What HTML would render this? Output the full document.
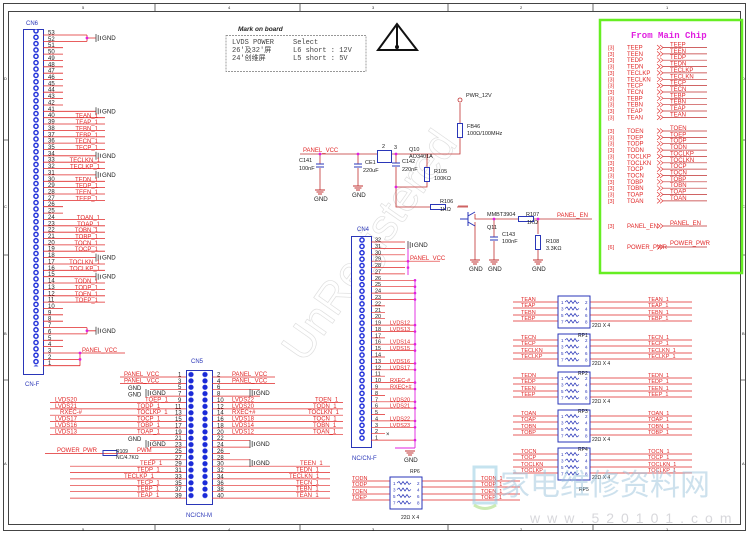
<!DOCTYPE html>
<html><head><meta charset="utf-8"><style>
html,body{margin:0;padding:0;background:#fff}
svg{display:block}
text{font-family:"Liberation Sans","Noto Sans CJK SC",sans-serif}
.mono text{font-family:"Liberation Mono","Noto Sans CJK SC",monospace;font-size:7px;fill:#444}
.r{fill:#e02828;font-size:6px}
.b{fill:#2a36b8;font-size:6px}
.k{fill:#222;font-size:6.2px}
.m{fill:#e020e0;font-size:6px}
</style></head><body>
<svg width="750" height="537" viewBox="0 0 750 537" xmlns="http://www.w3.org/2000/svg">
<defs>
<pattern id="d6" x="31" y="27.7" width="10" height="6.36" patternUnits="userSpaceOnUse"><circle cx="5" cy="3.18" r="2.1" fill="#fff" stroke="#1a2ad8" stroke-width="1.4"/></pattern>
<pattern id="d4" x="357" y="236.8" width="10" height="6.39" patternUnits="userSpaceOnUse"><circle cx="5" cy="3.2" r="2.1" fill="#fff" stroke="#1a2ad8" stroke-width="1.4"/></pattern>
<pattern id="d5" x="186" y="371.3" width="14" height="6.37" patternUnits="userSpaceOnUse"><circle cx="5" cy="3.2" r="2.6" fill="#1a2ad8"/><circle cx="19" cy="3.2" r="2.6" fill="#1a2ad8"/></pattern>
<g id="gs"><path d="M0 -4V4M2.2 -3V3M4.4 -2V2" stroke="#555" stroke-width="0.9"/><text x="6" y="2" class="k">GND</text></g>
<g id="gd"><path d="M-5 0H5M-3.5 2H3.5M-2 4H2" stroke="#c03030" stroke-width="0.9"/><text x="-6" y="11" class="k">GND</text></g>
<g id="ch"><path d="M0 -2.5L3 0L0 2.5M3 -2.5L6 0L3 2.5" fill="none" stroke="#e02828" stroke-width="0.6"/></g>
<g id="zz"><path d="M3 0l2 -1.5l2 3l2 -3l2 3l2 -3l2 3l2 -1.5" fill="none" stroke="#2a36b8" stroke-width="0.7"/></g>
<g id="rp"><rect x="0" y="0" width="32" height="32" fill="none" stroke="#2a36b8" stroke-width="1"/>
<use href="#zz" x="4" y="6"/><use href="#zz" x="4" y="12.5"/><use href="#zz" x="4" y="19"/><use href="#zz" x="4" y="25.5"/>
<text x="3" y="8" class="b" style="font-size:4.5px">1</text><text x="27" y="8" class="b" style="font-size:4.5px">2</text>
<text x="3" y="14.5" class="b" style="font-size:4.5px">3</text><text x="27" y="14.5" class="b" style="font-size:4.5px">4</text>
<text x="3" y="21" class="b" style="font-size:4.5px">5</text><text x="27" y="21" class="b" style="font-size:4.5px">6</text>
<text x="3" y="27.5" class="b" style="font-size:4.5px">7</text><text x="27" y="27.5" class="b" style="font-size:4.5px">8</text></g>
</defs>

<!-- frame -->
<rect x="3.5" y="3.5" width="742" height="527" fill="none" stroke="#444" stroke-width="1"/>
<rect x="8.5" y="11.5" width="732" height="513" fill="none" stroke="#444" stroke-width="1"/>
<path d="M155 4V11M300 4V11M448 4V11M593 4V11M155 525V531M300 525V531M448 525V531M593 525V531M4 140H8M4 255H8M4 380H8M741 140H746M741 255H746M741 380H746" stroke="#444" stroke-width="0.8"/>
<text x="82" y="9" class="k" style="font-size:4px">5</text><text x="228" y="9" class="k" style="font-size:4px">4</text><text x="372" y="9" class="k" style="font-size:4px">3</text><text x="520" y="9" class="k" style="font-size:4px">2</text><text x="666" y="9" class="k" style="font-size:4px">1</text>
<text x="82" y="531" class="k" style="font-size:4px">5</text><text x="228" y="531" class="k" style="font-size:4px">4</text><text x="372" y="531" class="k" style="font-size:4px">3</text><text x="520" y="531" class="k" style="font-size:4px">2</text><text x="666" y="531" class="k" style="font-size:4px">1</text>
<text x="4" y="80" class="k" style="font-size:4px">D</text><text x="4" y="208" class="k" style="font-size:4px">C</text><text x="4" y="335" class="k" style="font-size:4px">B</text><text x="4" y="465" class="k" style="font-size:4px">A</text>
<text x="742" y="80" class="k" style="font-size:4px">D</text><text x="742" y="208" class="k" style="font-size:4px">C</text><text x="742" y="335" class="k" style="font-size:4px">B</text><text x="742" y="465" class="k" style="font-size:4px">A</text>

<!-- watermark -->
<text x="250" y="340" transform="rotate(-55 300 300)" style="font-size:44px;fill:none;stroke:#d8d8d8;stroke-width:0.7" opacity="0.8">UnRegistered</text>

<!-- CN6 -->
<text x="26" y="25" class="b">CN6</text>
<rect x="23.5" y="29.5" width="20" height="345" fill="#fff" stroke="#2a36b8" stroke-width="1"/>
<rect x="31" y="29.3" width="10" height="337.1" fill="url(#d6)"/>
<text x="25" y="386" class="b">CN-F</text>
<path stroke="#e02828" stroke-width="0.8" d="
M43 35H87M43 41.4H87M43 47.7H63M43 54.1H63M43 60.4H63M43 66.8H63M43 73.2H63M43 79.5H63M43 85.9H63M43 92.2H63M43 98.6H63M43 105H63
M43 111.3H96M43 117.7H105M43 124H105M43 130.4H105M43 136.8H105M43 143.1H105M43 149.5H105M43 155.8H96M43 162.2H105M43 168.6H105M43 174.9H96
M43 181.3H105M43 187.6H105M43 194H105M43 200.4H105M43 206.7H63M43 213.1H63M43 219.4H105M43 225.8H105M43 232.2H105M43 238.5H105M43 244.9H105M43 251.2H105
M43 257.6H96M43 264H105M43 270.3H105M43 276.7H96M43 283H105M43 289.4H105M43 295.8H105M43 302.1H105M43 308.5H63M43 314.8H63M43 321.2H63
M43 327.6H87M43 333.9H87M43 340.3H63M43 346.6H63M43 353H80M43 359.4H80M43 365.7H80M80 353V365.7M80 353H125M87 35V41.4M87 38H96M87 327.6V333.9M87 330.8H96"/>
<g fill="#e020e0"><circle cx="87" cy="38" r="1.4"/><circle cx="87" cy="330.8" r="1.4"/><circle cx="80" cy="359.4" r="1.4"/><circle cx="80" cy="353" r="1.4"/></g>
<use href="#gs" x="96" y="38"/><use href="#gs" x="96" y="111.3"/><use href="#gs" x="96" y="155.8"/><use href="#gs" x="96" y="174.9"/><use href="#gs" x="96" y="257.6"/><use href="#gs" x="96" y="276.7"/><use href="#gs" x="96" y="330.8"/>
<text x="82" y="352" class="r">PANEL_VCC</text>
<g class="k" style="font-size:6px">
<text x="48" y="34.5">53</text><text x="48" y="40.9">52</text><text x="48" y="47.2">51</text><text x="48" y="53.6">50</text><text x="48" y="59.9">49</text><text x="48" y="66.3">48</text><text x="48" y="72.7">47</text><text x="48" y="79">46</text><text x="48" y="85.4">45</text><text x="48" y="91.7">44</text><text x="48" y="98.1">43</text><text x="48" y="104.5">42</text><text x="48" y="110.8">41</text><text x="48" y="117.2">40</text><text x="48" y="123.5">39</text><text x="48" y="129.9">38</text><text x="48" y="136.3">37</text><text x="48" y="142.6">36</text><text x="48" y="149">35</text><text x="48" y="155.3">34</text><text x="48" y="161.7">33</text><text x="48" y="168.1">32</text><text x="48" y="174.4">31</text><text x="48" y="180.8">30</text><text x="48" y="187.1">29</text><text x="48" y="193.5">28</text><text x="48" y="199.9">27</text><text x="48" y="206.2">26</text><text x="48" y="212.6">25</text><text x="48" y="218.9">24</text><text x="48" y="225.3">23</text><text x="48" y="231.7">22</text><text x="48" y="238">21</text><text x="48" y="244.4">20</text><text x="48" y="250.7">19</text><text x="48" y="257.1">18</text><text x="48" y="263.5">17</text><text x="48" y="269.8">16</text><text x="48" y="276.2">15</text><text x="48" y="282.5">14</text><text x="48" y="288.9">13</text><text x="48" y="295.3">12</text><text x="48" y="301.6">11</text><text x="48" y="308">10</text><text x="48" y="314.3">9</text><text x="48" y="320.7">8</text><text x="48" y="327.1">7</text><text x="48" y="333.4">6</text><text x="48" y="339.8">5</text><text x="48" y="346.1">4</text><text x="48" y="352.5">3</text><text x="48" y="358.9">2</text><text x="48" y="365.2">1</text>
</g>
<g class="r" text-anchor="end">
<text x="98" y="117.7">TEAN_1</text><text x="98" y="124">TEAP_1</text><text x="98" y="130.4">TEBN_1</text><text x="98" y="136.8">TEBP_1</text><text x="98" y="143.1">TECN_1</text><text x="98" y="149.5">TECP_1</text>
<text x="100" y="162.2">TECLKN_1</text><text x="100" y="168.6">TECLKP_1</text>
<text x="98" y="181.3">TEDN_1</text><text x="98" y="187.6">TEDP_1</text><text x="98" y="194">TEEN_1</text><text x="98" y="200.4">TEEP_1</text>
<text x="100" y="219.4">TOAN_1</text><text x="100" y="225.8">TOAP_1</text><text x="98" y="232.2">TOBN_1</text><text x="98" y="238.5">TOBP_1</text><text x="98" y="244.9">TOCN_1</text><text x="98" y="251.2">TOCP_1</text>
<text x="100" y="264">TOCLKN_1</text><text x="100" y="270.3">TOCLKP_1</text>
<text x="98" y="283">TODN_1</text><text x="98" y="289.4">TODP_1</text><text x="98" y="295.8">TOEN_1</text><text x="98" y="302.1">TOEP_1</text>
</g>

<!-- Mark on board -->
<text x="238" y="31" style="font-size:6.5px;font-style:italic;font-weight:bold;fill:#222">Mark on board</text>
<rect x="226" y="35.5" width="140" height="36" fill="none" stroke="#777" stroke-width="0.7" stroke-dasharray="2,1"/>
<g class="mono">
<text x="232" y="44">LVDS POWER</text><text x="293" y="44">Select</text>
<text x="232" y="52">26'及32'屏</text><text x="293" y="52">L6 short : 12V</text>
<text x="232" y="60">24'创维屏</text><text x="293" y="60">L5 short : 5V</text>
</g>

<!-- triangle -->
<path d="M397 24L378 50H417Z" fill="none" stroke="#111" stroke-width="2"/>
<path d="M397 26V47" stroke="#111" stroke-width="2"/><circle cx="397" cy="47" r="2" fill="#111"/>

<!-- power circuit -->
<text x="303" y="152" class="r">PANEL_VCC</text>
<path stroke="#c03030" stroke-width="0.8" fill="none" d="M300 154H377M391 154H460V138M460 123V103M320 154V164M320 168V190M358 154V164M358 168V186M396 154V163M396 167V207H430M457 207H468M427 154V167M427 181V187H396M475 222V260M475 214V219H518M533 219H592M538 219V234M538 250V260M494 219V237M494 241V260M458 206H468"/>
<path d="M316 164H324M316 167H324M354 164H362M354 167H362M392 163H400M392 166H400M490 237H498M490 240H498" stroke="#2a36b8" stroke-width="1"/>
<rect x="424.5" y="167.5" width="5" height="14" fill="none" stroke="#2a36b8"/>
<rect x="457.5" y="123.5" width="5" height="14" fill="none" stroke="#2a36b8"/>
<rect x="535.5" y="235.5" width="5" height="14" fill="none" stroke="#2a36b8"/>
<rect x="518.5" y="216.5" width="15" height="5" fill="none" stroke="#2a36b8"/>
<rect x="430.5" y="204.5" width="15" height="5" fill="none" stroke="#2a36b8"/>
<rect x="377.5" y="150.5" width="14" height="12" fill="none" stroke="#2a36b8"/>
<path d="M468 212V226M468 216L475 212M468 222L475 226M460 219H468" stroke="#2a36b8" stroke-width="1" fill="none"/>
<circle cx="460" cy="100" r="2" fill="#fff" stroke="#c03030" stroke-width="0.8"/>
<g fill="#e020e0"><circle cx="320" cy="154" r="1.4"/><circle cx="358" cy="154" r="1.4"/><circle cx="396" cy="154" r="1.4"/><circle cx="396" cy="187" r="1.4"/><circle cx="538" cy="219" r="1.4"/><circle cx="494" cy="219" r="1.4"/></g>
<use href="#gd" x="320" y="190"/><use href="#gd" x="358" y="186"/><use href="#gd" x="475" y="260"/><use href="#gd" x="494" y="260"/><use href="#gd" x="538" y="260"/>
<g class="k" style="font-size:5.5px">
<text x="466" y="97">PWR_12V</text><text x="467" y="128">FB46</text><text x="467" y="135">100Ω/100MHz</text>
<text x="299" y="162">C141</text><text x="299" y="170">100nF</text><text x="365" y="164">CE1</text><text x="363" y="172">220uF</text>
<text x="402" y="163">C142</text><text x="402" y="171">220nF</text><text x="409" y="151">Q10</text><text x="409" y="158">AO3401A</text>
<text x="434" y="173">R105</text><text x="434" y="180">100KΩ</text><text x="440" y="203">R106</text><text x="440" y="211">1KΩ</text>
<text x="487" y="216">MMBT3904</text><text x="487" y="229">Q11</text><text x="502" y="236">C143</text><text x="502" y="243">100nF</text>
<text x="526" y="216">R107</text><text x="527" y="224">1KΩ</text><text x="546" y="243">R108</text><text x="546" y="250">3.3KΩ</text>
<text x="382" y="148">2</text><text x="394" y="149">3</text>
</g>
<text x="557" y="217" class="r">PANEL_EN</text>

<!-- green box -->
<rect x="600" y="20" width="142" height="253" fill="none" stroke="#66ee22" stroke-width="2.5"/>
<text x="631" y="38" style="font-family:'Liberation Mono',monospace;font-weight:bold;font-size:9px;fill:#e020e0">From Main Chip</text>
<g class="r" style="font-size:5.5px">
<text x="608" y="49.5">[3]</text><text x="608" y="55.9">[3]</text><text x="608" y="62.2">[3]</text><text x="608" y="68.6">[3]</text><text x="608" y="74.9">[3]</text><text x="608" y="81.3">[3]</text><text x="608" y="87.6">[3]</text><text x="608" y="94">[3]</text><text x="608" y="100.3">[3]</text><text x="608" y="106.7">[3]</text><text x="608" y="113">[3]</text><text x="608" y="119.4">[3]</text>
<text x="608" y="133">[3]</text><text x="608" y="139.4">[3]</text><text x="608" y="145.7">[3]</text><text x="608" y="152.1">[3]</text><text x="608" y="158.4">[3]</text><text x="608" y="164.8">[3]</text><text x="608" y="171.1">[3]</text><text x="608" y="177.5">[3]</text><text x="608" y="183.8">[3]</text><text x="608" y="190.2">[3]</text><text x="608" y="196.5">[3]</text><text x="608" y="202.9">[3]</text>
<text x="608" y="228">[3]</text><text x="608" y="249">[6]</text>
</g>
<g class="r">
<text x="627" y="49.5">TEEP</text><text x="627" y="55.9">TEEN</text><text x="627" y="62.2">TEDP</text><text x="627" y="68.6">TEDN</text><text x="627" y="74.9">TECLKP</text><text x="627" y="81.3">TECLKN</text><text x="627" y="87.6">TECP</text><text x="627" y="94">TECN</text><text x="627" y="100.3">TEBP</text><text x="627" y="106.7">TEBN</text><text x="627" y="113">TEAP</text><text x="627" y="119.4">TEAN</text>
<text x="627" y="133">TOEN</text><text x="627" y="139.4">TOEP</text><text x="627" y="145.7">TODP</text><text x="627" y="152.1">TODN</text><text x="627" y="158.4">TOCLKP</text><text x="627" y="164.8">TOCLKN</text><text x="627" y="171.1">TOCP</text><text x="627" y="177.5">TOCN</text><text x="627" y="183.8">TOBP</text><text x="627" y="190.2">TOBN</text><text x="627" y="196.5">TOAP</text><text x="627" y="202.9">TOAN</text>
<text x="627" y="228">PANEL_EN</text><text x="627" y="249">POWER_PWR</text>
<text x="670" y="46.5">TEEP</text><text x="670" y="52.9">TEEN</text><text x="670" y="59.2">TEDP</text><text x="670" y="65.6">TEDN</text><text x="670" y="71.9">TECLKP</text><text x="670" y="78.3">TECLKN</text><text x="670" y="84.6">TECP</text><text x="670" y="91">TECN</text><text x="670" y="97.3">TEBP</text><text x="670" y="103.7">TEBN</text><text x="670" y="110">TEAP</text><text x="670" y="116.4">TEAN</text>
<text x="670" y="130">TOEN</text><text x="670" y="136.4">TOEP</text><text x="670" y="142.7">TODP</text><text x="670" y="149.1">TODN</text><text x="670" y="155.4">TOCLKP</text><text x="670" y="161.8">TOCLKN</text><text x="670" y="168.1">TOCP</text><text x="670" y="174.5">TOCN</text><text x="670" y="180.8">TOBP</text><text x="670" y="187.2">TOBN</text><text x="670" y="193.5">TOAP</text><text x="670" y="199.9">TOAN</text>
<text x="670" y="225">PANEL_EN</text><text x="670" y="245">POWER_PWR</text>
</g>
<path stroke="#c03030" stroke-width="0.7" d="M663 47.5H707M663 53.9H707M663 60.2H707M663 66.6H707M663 72.9H707M663 79.3H707M663 85.6H707M663 92H707M663 98.3H707M663 104.7H707M663 111H707M663 117.4H707M663 131H707M663 137.4H707M663 143.7H707M663 150.1H707M663 156.4H707M663 162.8H707M663 169.1H707M663 175.5H707M663 181.8H707M663 188.2H707M663 194.5H707M663 200.9H707M663 226H707M663 247H707"/>
<g><use href="#ch" x="657" y="47.5"/><use href="#ch" x="657" y="53.9"/><use href="#ch" x="657" y="60.2"/><use href="#ch" x="657" y="66.6"/><use href="#ch" x="657" y="72.9"/><use href="#ch" x="657" y="79.3"/><use href="#ch" x="657" y="85.6"/><use href="#ch" x="657" y="92"/><use href="#ch" x="657" y="98.3"/><use href="#ch" x="657" y="104.7"/><use href="#ch" x="657" y="111"/><use href="#ch" x="657" y="117.4"/>
<use href="#ch" x="657" y="131"/><use href="#ch" x="657" y="137.4"/><use href="#ch" x="657" y="143.7"/><use href="#ch" x="657" y="150.1"/><use href="#ch" x="657" y="156.4"/><use href="#ch" x="657" y="162.8"/><use href="#ch" x="657" y="169.1"/><use href="#ch" x="657" y="175.5"/><use href="#ch" x="657" y="181.8"/><use href="#ch" x="657" y="188.2"/><use href="#ch" x="657" y="194.5"/><use href="#ch" x="657" y="200.9"/><use href="#ch" x="657" y="226"/><use href="#ch" x="657" y="247"/></g>

<!-- CN4 -->
<text x="357" y="231" class="b">CN4</text>
<rect x="351.5" y="236.5" width="20" height="211" fill="#fff" stroke="#2a36b8" stroke-width="1"/>
<rect x="357" y="236.8" width="10" height="204.5" fill="url(#d4)"/>
<text x="352" y="460" class="b">NC/CN-F</text>
<path stroke="#e02828" stroke-width="0.7" d="M371 242H405M371 248.4H405M371 254.8H405M371 261.2H440M371 267.6H405M371 273.9H405M371 280.3H415M371 286.7H415M371 293.1H415M371 299.5H415M371 305.9H385M371 312.3H385M371 318.7H385M371 325.1H415M371 331.5H415M371 337.9H385M371 344.2H415M371 350.6H415M371 357H385M371 363.4H415M371 369.8H415M371 376.2H385M371 382.6H415M371 389H415M371 395.4H385M371 401.8H415M371 408.1H415M371 414.5H385M371 420.9H415M371 427.3H415M371 433.7H385M371 440.1H415"/>
<path d="M415 280V448M408 242V275M395 448H415" stroke="#e020e0" stroke-width="0.9"/>
<g fill="#e020e0"><circle cx="415" cy="280.3" r="1.3"/><circle cx="415" cy="286.7" r="1.3"/><circle cx="415" cy="293.1" r="1.3"/><circle cx="415" cy="299.5" r="1.3"/><circle cx="415" cy="325.1" r="1.3"/><circle cx="415" cy="331.5" r="1.3"/><circle cx="415" cy="344.2" r="1.3"/><circle cx="415" cy="350.6" r="1.3"/><circle cx="415" cy="363.4" r="1.3"/><circle cx="415" cy="369.8" r="1.3"/><circle cx="415" cy="382.6" r="1.3"/><circle cx="415" cy="389" r="1.3"/><circle cx="415" cy="401.8" r="1.3"/><circle cx="415" cy="408.1" r="1.3"/><circle cx="415" cy="420.9" r="1.3"/><circle cx="415" cy="427.3" r="1.3"/><circle cx="415" cy="440.1" r="1.3"/><circle cx="408" cy="261.2" r="1.3"/><circle cx="408" cy="267.6" r="1.3"/></g>
<use href="#gs" x="408" y="245"/>
<text x="410" y="260" class="r">PANEL_VCC</text>
<use href="#gd" x="410" y="451"/>
<g class="k" style="font-size:5.5px">
<text x="375" y="241.5">32</text><text x="375" y="247.9">31</text><text x="375" y="254.3">30</text><text x="375" y="260.7">29</text><text x="375" y="267.1">28</text><text x="375" y="273.4">27</text><text x="375" y="279.8">26</text><text x="375" y="286.2">25</text><text x="375" y="292.6">24</text><text x="375" y="299">23</text><text x="375" y="305.4">22</text><text x="375" y="311.8">21</text><text x="375" y="318.2">20</text><text x="375" y="324.6">19</text><text x="375" y="331">18</text><text x="375" y="337.4">17</text><text x="375" y="343.7">16</text><text x="375" y="350.1">15</text><text x="375" y="356.5">14</text><text x="375" y="362.9">13</text><text x="375" y="369.3">12</text><text x="375" y="375.7">11</text><text x="375" y="382.1">10</text><text x="375" y="388.5">9</text><text x="375" y="394.9">8</text><text x="375" y="401.3">7</text><text x="375" y="407.6">6</text><text x="375" y="414">5</text><text x="375" y="420.4">4</text><text x="375" y="426.8">3</text><text x="375" y="433.2">2</text><text x="375" y="439.6">1</text>
</g>
<g class="r" style="font-size:5.5px">
<text x="390" y="324.6">LVDS12</text><text x="390" y="331">LVDS13</text><text x="390" y="343.7">LVDS14</text><text x="390" y="350.1">LVDS15</text><text x="390" y="362.9">LVDS16</text><text x="390" y="369.3">LVDS17</text><text x="390" y="382.1">RXEC-#</text><text x="390" y="388.5">RXEC+#</text><text x="390" y="401.3">LVDS20</text><text x="390" y="407.6">LVDS21</text><text x="390" y="420.4">LVDS22</text><text x="390" y="426.8">LVDS23</text>
</g>
<text x="386" y="436" class="k" style="font-size:6px">×</text>

<!-- CN5 -->
<text x="191" y="363" class="b">CN5</text>
<rect x="186.5" y="370.5" width="26" height="134" fill="#fff" stroke="#2a36b8" stroke-width="1"/>
<rect x="186" y="371.3" width="28" height="127.4" fill="url(#d5)"/>
<text x="186" y="517" class="b">NC/CN-M</text>
<path stroke="#e02828" stroke-width="0.7" d="
M120 377H186M120 383.4H186M150 389.7H186M150 396.1H186M50 402.5H186M50 408.9H186M50 415.2H186M50 421.6H186M50 428H186M50 434.3H186M150 440.7H186M150 447.1H186M45 453.5H186M150 459.8H186M70 466.2H186M70 472.6H186M70 478.9H186M70 485.3H186M70 491.7H186M70 498.1H186
M212 377H275M212 383.4H275M212 389.7H260M212 396.1H260M212 402.5H343M212 408.9H343M212 415.2H343M212 421.6H343M212 428H343M212 434.3H343M212 440.7H250M212 447.1H250M212 453.5H230M212 459.8H250M212 466.2H330M212 472.6H330M212 478.9H330M212 485.3H330M212 491.7H330M212 498.1H330"/>
<rect x="103" y="450.5" width="14" height="5" fill="none" stroke="#2a36b8"/>
<use href="#gs" x="146" y="393"/><use href="#gs" x="146" y="444"/><use href="#gs" x="250" y="393"/><use href="#gs" x="250" y="444"/><use href="#gs" x="250" y="463"/>
<g class="k" style="font-size:6px">
<text x="178" y="376.5">1</text><text x="178" y="382.9">3</text><text x="178" y="389.2">5</text><text x="178" y="395.6">7</text><text x="178" y="402">9</text><text x="175" y="408.4">11</text><text x="175" y="414.7">13</text><text x="175" y="421.1">15</text><text x="175" y="427.5">17</text><text x="175" y="433.8">19</text><text x="175" y="440.2">21</text><text x="175" y="446.6">23</text><text x="175" y="453">25</text><text x="175" y="459.3">27</text><text x="175" y="465.7">29</text><text x="175" y="472.1">31</text><text x="175" y="478.4">33</text><text x="175" y="484.8">35</text><text x="175" y="491.2">37</text><text x="175" y="497.6">39</text>
<text x="217" y="376.5">2</text><text x="217" y="382.9">4</text><text x="217" y="389.2">6</text><text x="217" y="395.6">8</text><text x="217" y="402">10</text><text x="217" y="408.4">12</text><text x="217" y="414.7">14</text><text x="217" y="421.1">16</text><text x="217" y="427.5">18</text><text x="217" y="433.8">20</text><text x="217" y="440.2">22</text><text x="217" y="446.6">24</text><text x="217" y="453">26</text><text x="217" y="459.3">28</text><text x="217" y="465.7">30</text><text x="217" y="472.1">32</text><text x="217" y="478.4">34</text><text x="217" y="484.8">36</text><text x="217" y="491.2">38</text><text x="217" y="497.6">40</text>
<text x="128" y="390">GND</text><text x="128" y="396.5">GND</text><text x="128" y="441">GND</text>
</g>
<g class="r">
<text x="124" y="376">PANEL_VCC</text><text x="124" y="382.4">PANEL_VCC</text><text x="232" y="376">PANEL_VCC</text><text x="232" y="382.4">PANEL_VCC</text>
<text x="55" y="401.5">LVDS20</text><text x="55" y="407.9">LVDS21</text><text x="60" y="414.2">RXEC-#</text><text x="55" y="420.6">LVDS17</text><text x="55" y="427">LVDS16</text><text x="55" y="433.3">LVDS13</text>
<text x="145" y="401.5">TOEP_1</text><text x="137" y="407.9">TODP_1</text><text x="137" y="414.2">TOCLKP_1</text><text x="137" y="420.6">TOCP_1</text><text x="137" y="427">TOBP_1</text><text x="137" y="433.3">TOAP_1</text>
<text x="232" y="401.5">LVDS22</text><text x="232" y="407.9">LVDS20</text><text x="232" y="414.2">RXEC+#</text><text x="232" y="420.6">LVDS18</text><text x="232" y="427">LVDS14</text><text x="232" y="433.3">LVDS12</text>
<text x="315" y="401.5">TOEN_1</text><text x="313" y="407.9">TODN_1</text><text x="308" y="414.2">TOCLKN_1</text><text x="313" y="420.6">TOCN_1</text><text x="313" y="427">TOBN_1</text><text x="313" y="433.3">TOAN_1</text>
<text x="57" y="452">POWER_PWR</text><text x="137" y="452">PWM</text>
<text x="140" y="465.2">TEEP_1</text><text x="137" y="471.6">TEDP_1</text><text x="124" y="477.9">TECLKP_1</text><text x="137" y="484.3">TECP_1</text><text x="137" y="490.7">TEBP_1</text><text x="137" y="497.1">TEAP_1</text>
<text x="300" y="465.2">TEEN_1</text><text x="296" y="471.6">TEDN_1</text><text x="289" y="477.9">TECLKN_1</text><text x="296" y="484.3">TECN_1</text><text x="296" y="490.7">TEBN_1</text><text x="296" y="497.1">TEAN_1</text>
</g>
<text x="116" y="453" class="k" style="font-size:5px">R109</text><text x="116" y="459" class="k" style="font-size:5px">NC/4.7KΩ</text>

<!-- RP blocks -->
<path stroke="#e02828" stroke-width="0.7" d="
M513 302H558M513 308H558M513 315H558M513 321H558M590 302H692M590 308H692M590 315H692M590 321H692
M513 340H558M513 346H558M513 353H558M513 359H558M590 340H692M590 346H692M590 353H692M590 359H692
M513 378H558M513 384H558M513 391H558M513 397H558M590 378H692M590 384H692M590 391H692M590 397H692
M513 416H558M513 422H558M513 429H558M513 435H558M590 416H692M590 422H692M590 429H692M590 435H692
M513 454H558M513 460H558M513 467H558M513 473H558M590 454H692M590 460H692M590 467H692M590 473H692
M352 481H390M352 487H390M352 494H390M352 500H390M422 481H520M422 487H520M422 494H520M422 500H520"/>
<use href="#rp" x="558" y="296"/><use href="#rp" x="558" y="334"/><use href="#rp" x="558" y="372"/><use href="#rp" x="558" y="410"/><use href="#rp" x="558" y="448"/><use href="#rp" x="390" y="477"/>
<g class="k" style="font-size:5px">
<text x="592" y="327">22Ω X 4</text><text x="592" y="365">22Ω X 4</text><text x="592" y="403">22Ω X 4</text><text x="592" y="441">22Ω X 4</text><text x="592" y="479">22Ω X 4</text><text x="401" y="519">22Ω X 4</text>
<text x="578" y="337">RP1</text><text x="578" y="375">RP2</text><text x="578" y="413">RP3</text><text x="578" y="451">RP4</text><text x="579" y="491">RP5</text><text x="410" y="473">RP6</text>
</g>
<g class="r" style="font-size:5.5px">
<text x="521" y="301">TEAN</text><text x="521" y="307">TEAP</text><text x="521" y="314">TEBN</text><text x="521" y="320">TEBP</text>
<text x="648" y="301">TEAN_1</text><text x="648" y="307">TEAP_1</text><text x="648" y="314">TEBN_1</text><text x="648" y="320">TEBP_1</text>
<text x="521" y="339">TECN</text><text x="521" y="345">TECP</text><text x="521" y="352">TECLKN</text><text x="521" y="358">TECLKP</text>
<text x="648" y="339">TECN_1</text><text x="648" y="345">TECP_1</text><text x="648" y="352">TECLKN_1</text><text x="648" y="358">TECLKP_1</text>
<text x="521" y="377">TEDN</text><text x="521" y="383">TEDP</text><text x="521" y="390">TEEN</text><text x="521" y="396">TEEP</text>
<text x="648" y="377">TEDN_1</text><text x="648" y="383">TEDP_1</text><text x="648" y="390">TEEN_1</text><text x="648" y="396">TEEP_1</text>
<text x="521" y="415">TOAN</text><text x="521" y="421">TOAP</text><text x="521" y="428">TOBN</text><text x="521" y="434">TOBP</text>
<text x="648" y="415">TOAN_1</text><text x="648" y="421">TOAP_1</text><text x="648" y="428">TOBN_1</text><text x="648" y="434">TOBP_1</text>
<text x="521" y="453">TOCN</text><text x="521" y="459">TOCP</text><text x="521" y="466">TOCLKN</text><text x="521" y="472">TOCLKP</text>
<text x="648" y="453">TOCN_1</text><text x="648" y="459">TOCP_1</text><text x="648" y="466">TOCLKN_1</text><text x="648" y="472">TOCLKP_1</text>
<text x="352" y="480">TODN</text><text x="352" y="486">TODP</text><text x="352" y="493">TOEN</text><text x="352" y="499">TOEP</text>
<text x="481" y="480">TODN_1</text><text x="481" y="486">TODP_1</text><text x="481" y="493">TOEN_1</text><text x="481" y="499">TOEP_1</text>
</g>

<!-- site watermark -->
<g opacity="0.5">
<path d="M474 467H496V503H474Z" fill="none" stroke="#8cc8e0" stroke-width="3"/>
<path d="M474 505Q485 512 496 505" fill="none" stroke="#9ad86a" stroke-width="3"/>
<text x="500" y="495" style="font-family:'Noto Sans CJK SC',sans-serif;font-size:30px;fill:#9cc4dc">家电维修资料网</text>
<text x="530" y="523" style="font-family:'Liberation Sans',sans-serif;font-size:14px;letter-spacing:7px;fill:#b0b0b8">www.520101.com</text>
</g>
</svg>
</body></html>
